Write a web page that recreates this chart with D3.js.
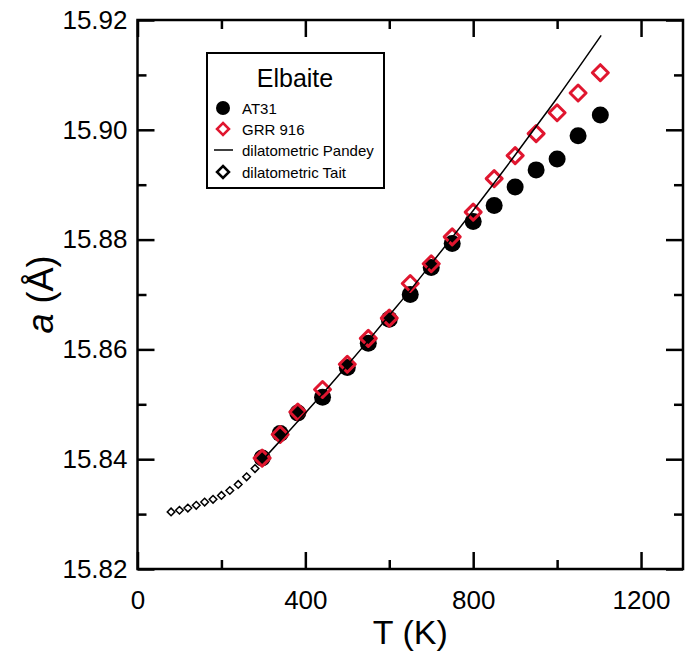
<!DOCTYPE html>
<html>
<head>
<meta charset="utf-8">
<script src="https://cdn.jsdelivr.net/npm/d3@7"></script>
<style>
  body { margin: 0; background: #fff; }
  text { font-family: "Liberation Sans", Arial, sans-serif; }
</style>
</head>
<body>
<div id="chart"></div>
<script>
// Data
var tempT = [297, 340, 382, 441, 500, 550, 600, 650, 700, 750, 800, 850, 900, 950, 1000, 1050, 1103];
var at31A = [15.8402, 15.8447, 15.8484, 15.8513, 15.8567, 15.8611, 15.8655, 15.8700, 15.8749, 15.8793,
    15.8833, 15.8862, 15.8896, 15.8927, 15.8947, 15.8989, 15.9027];
var grrA = [15.8402, 15.8445, 15.8486, 15.8527, 15.8573, 15.8620, 15.8657, 15.8720, 15.8756, 15.8805,
    15.8850, 15.8911, 15.8953, 15.8993, 15.9031, 15.9067, 15.9104];

// dilatometric Pandey curve
var pandeyT = [300, 350, 400, 450, 500, 550, 600, 650, 700, 750, 800, 850, 900, 950, 1000, 1050, 1105];
var pandeyA = [15.8400, 15.8442, 15.8484, 15.8527, 15.8571, 15.8616, 15.8662, 15.8708, 15.8756, 15.8804,
    15.8853, 15.8903, 15.8954, 15.9006, 15.9058, 15.9112, 15.9172];

// dilatometric Tait points
var taitT = [80, 100, 120, 140, 160, 180, 200, 220, 240, 260, 280];
var taitA = [15.8304, 15.8307, 15.8311, 15.8316, 15.8322, 15.8327, 15.8334, 15.8343, 15.8354, 15.8368, 15.8383];

var xTicks = [0, 400, 800, 1200];
var xMinor = [200, 600, 1000];
var yTicks = [15.82, 15.84, 15.86, 15.88, 15.90, 15.92];
var yMinor = [15.83, 15.85, 15.87, 15.89, 15.91];

var legendLabels = ["AT31", "GRR 916", "dilatometric Pandey", "dilatometric Tait"];

var red = "#e0162f";

// svg size
var svgWidth = 685;
var svgHeight = 655;

var margin = { top: 20, right: 2, bottom: 86, left: 137.5 };
var width = svgWidth - margin.left - margin.right;
var height = svgHeight - margin.top - margin.bottom;

var svg = d3.select("#chart")
    .append("svg")
    .attr("width", svgWidth)
    .attr("height", svgHeight);

var chartGroup = svg.append("g")
    .attr("transform", `translate(${margin.left}, ${margin.top})`);

var xScale = d3.scaleLinear().domain([0, 1300]).range([0, width]);
var yScale = d3.scaleLinear().domain([15.82, 15.92]).range([height, 0]);

// axes with inward ticks, major + minor, mirrored on top/right
function styleAxis(g) {
    g.select(".domain").remove();
    g.selectAll(".tick line").attr("stroke", "#000").attr("stroke-width", 2.5);
}

chartGroup.append("g")
    .attr("transform", `translate(0, ${height})`)
    .call(d3.axisBottom(xScale).tickValues(xTicks).tickSize(-17).tickPadding(22).tickFormat(d3.format("d")))
    .call(styleAxis)
    .selectAll("text")
    .attr("font-size", 26)
    .attr("fill", "#000");

chartGroup.append("g")
    .attr("transform", `translate(0, ${height})`)
    .call(d3.axisBottom(xScale).tickValues(xMinor).tickSize(-9).tickFormat(""))
    .call(styleAxis);

chartGroup.append("g")
    .call(d3.axisTop(xScale).tickValues(xTicks).tickSize(-17).tickFormat(""))
    .call(styleAxis);

chartGroup.append("g")
    .call(d3.axisTop(xScale).tickValues(xMinor).tickSize(-9).tickFormat(""))
    .call(styleAxis);

chartGroup.append("g")
    .call(d3.axisLeft(yScale).tickValues(yTicks).tickSize(-17).tickPadding(10).tickFormat(d3.format(".2f")))
    .call(styleAxis)
    .selectAll("text")
    .attr("font-size", 26)
    .attr("fill", "#000");

chartGroup.append("g")
    .call(d3.axisLeft(yScale).tickValues(yMinor).tickSize(-9).tickFormat(""))
    .call(styleAxis);

chartGroup.append("g")
    .attr("transform", `translate(${width}, 0)`)
    .call(d3.axisRight(yScale).tickValues(yTicks).tickSize(-17).tickFormat(""))
    .call(styleAxis);

chartGroup.append("g")
    .attr("transform", `translate(${width}, 0)`)
    .call(d3.axisRight(yScale).tickValues(yMinor).tickSize(-9).tickFormat(""))
    .call(styleAxis);

// plot frame
chartGroup.append("rect")
    .attr("width", width)
    .attr("height", height)
    .attr("fill", "none")
    .attr("stroke", "#000")
    .attr("stroke-width", 2.5);

// axis titles
svg.append("text")
    .attr("x", margin.left + width / 2)
    .attr("y", 644)
    .attr("text-anchor", "middle")
    .attr("font-size", 34)
    .text("T (K)");

var yTitle = svg.append("text")
    .attr("transform", `translate(53, ${margin.top + height / 2}) rotate(-90)`)
    .attr("text-anchor", "middle")
    .attr("font-size", 36);
yTitle.append("tspan").attr("font-style", "italic").text("a");
yTitle.append("tspan").text(" (Å)");

// diamond path helper
function diamond(cx, cy, r) {
    return `M${cx},${cy - r}L${cx + r},${cy}L${cx},${cy + r}L${cx - r},${cy}Z`;
}

// AT31 circles
chartGroup.selectAll(".at31")
    .data(tempT)
    .enter()
    .append("circle")
    .attr("class", "at31")
    .attr("cx", d => xScale(d))
    .attr("cy", (d, i) => yScale(at31A[i]))
    .attr("r", 8.5)
    .attr("fill", "#000");

// GRR 916 open red diamonds
chartGroup.selectAll(".grr")
    .data(tempT)
    .enter()
    .append("path")
    .attr("class", "grr")
    .attr("d", (d, i) => diamond(xScale(d), yScale(grrA[i]), 8))
    .attr("fill", "none")
    .attr("stroke", red)
    .attr("stroke-width", 3)
    .attr("stroke-linejoin", "round");

// Tait small open diamonds
chartGroup.selectAll(".tait")
    .data(taitT)
    .enter()
    .append("path")
    .attr("class", "tait")
    .attr("d", (d, i) => diamond(xScale(d), yScale(taitA[i]), 3.8))
    .attr("fill", "#fff")
    .attr("stroke", "#000")
    .attr("stroke-width", 1.5);

// Pandey line
var line = d3.line()
    .x((d, i) => xScale(pandeyT[i]))
    .y((d, i) => yScale(pandeyA[i]))
    .curve(d3.curveMonotoneX);

chartGroup.append("path")
    .datum(pandeyT)
    .attr("d", line)
    .attr("fill", "none")
    .attr("stroke", "#000")
    .attr("stroke-width", 1.5);

// Legend
var legend = svg.append("g");

legend.append("rect")
    .attr("x", 207)
    .attr("y", 53)
    .attr("width", 177)
    .attr("height", 135)
    .attr("fill", "#fff")
    .attr("stroke", "#000")
    .attr("stroke-width", 2);

legend.append("text")
    .attr("x", 295)
    .attr("y", 87)
    .attr("text-anchor", "middle")
    .attr("font-size", 25)
    .text("Elbaite");

var rowY = [108, 129, 150, 172];

legend.append("circle")
    .attr("cx", 223).attr("cy", rowY[0]).attr("r", 7).attr("fill", "#000");
legend.append("path")
    .attr("d", diamond(223, rowY[1], 6))
    .attr("fill", "none").attr("stroke", red).attr("stroke-width", 2.5);
legend.append("line")
    .attr("x1", 214).attr("x2", 233).attr("y1", rowY[2]).attr("y2", rowY[2])
    .attr("stroke", "#000").attr("stroke-width", 1.5);
legend.append("path")
    .attr("d", diamond(223, rowY[3], 6))
    .attr("fill", "none").attr("stroke", "#000").attr("stroke-width", 2.5);

legend.selectAll(".legText")
    .data(legendLabels)
    .enter()
    .append("text")
    .attr("class", "legText")
    .attr("x", 242)
    .attr("y", (d, i) => rowY[i] + 6)
    .attr("font-size", 15)
    .text(d => d);
</script>
</body>
</html>
